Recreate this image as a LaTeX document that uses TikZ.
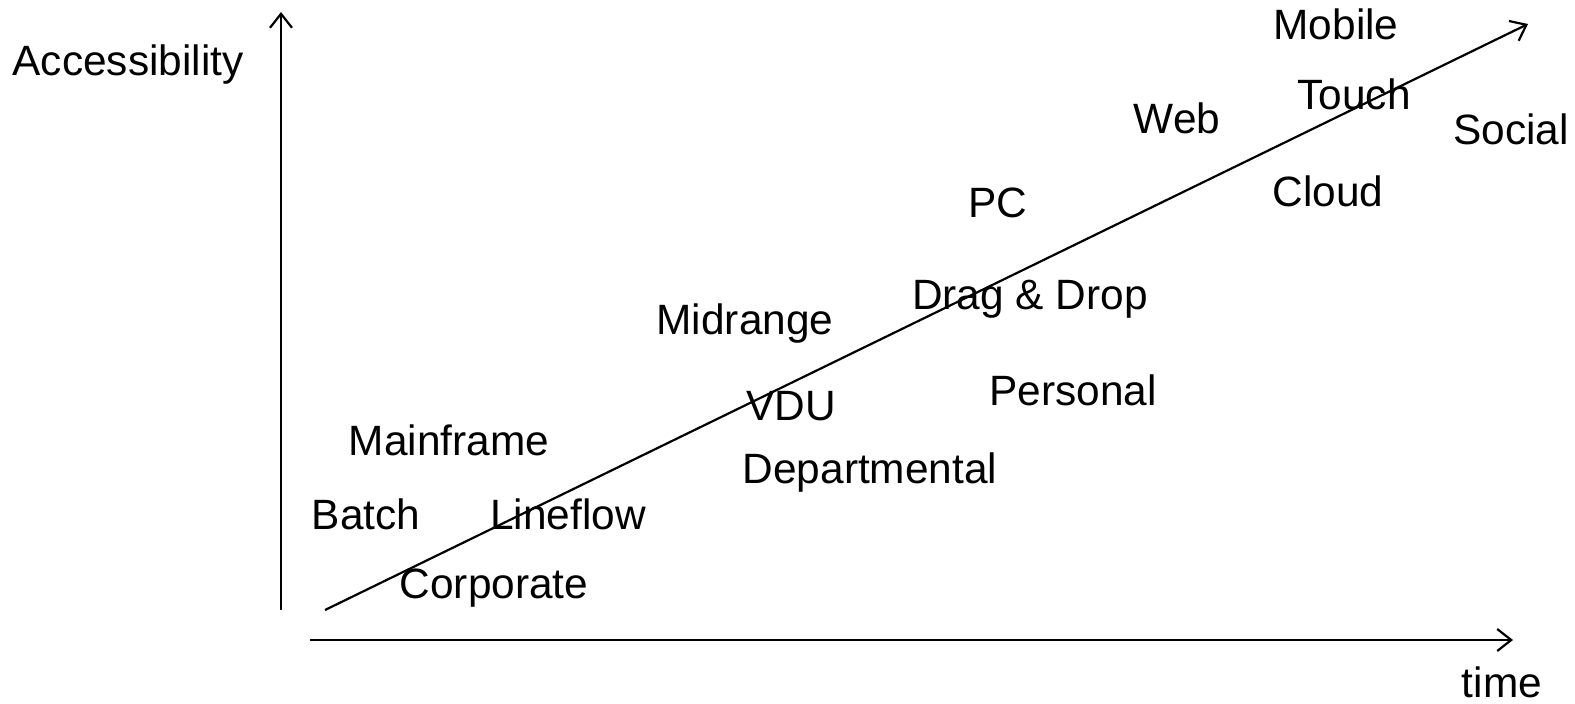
\documentclass[tikz,border=0pt]{standalone}
\usepackage{fontspec}
\setmainfont{Liberation Sans}
\usetikzlibrary{arrows.meta}

\begin{document}
\begin{tikzpicture}[x=0.5pt,y=-0.5pt,
        every node/.style={font=\fontsize{21.2}{25}\selectfont, inner sep=0pt, text height=15.2pt, text depth=0pt},
        axis/.style={line width=1.1pt, -{Straight Barb[length=7pt,width=11pt,line width=1.1pt]}}]
    \useasboundingbox (0,0) rectangle (1575,703);
    % axes and trend
    \coordinate (yfoot) at (281,610);
    \coordinate (ytip) at (281,12);
    \coordinate (xfoot) at (310,640);
    \coordinate (xtip) at (1513,640);
    \coordinate (tfoot) at (325,610);
    \coordinate (ttip) at (1528,24);
    \draw[axis] (yfoot) -- (ytip);
    \draw[axis] (xfoot) -- (xtip);
    \draw[axis] (tfoot) -- (ttip);
    \node (access) at (128,60) {Accessibility};
    \node (time) at (1502,682) {time};
    % labels
    \node (mobile) at (1336,24) {Mobile};
    \node (touch) at (1354,94) {Touch};
    \node (web) at (1177,118) {Web};
    \node (social) at (1511,129) {Social};
    \node (cloud) at (1328,191) {Cloud};
    \node (pc) at (998,202) {PC};
    \node (dragdrop) at (1030,294) {Drag \& Drop};
    \node (midrange) at (745,319) {Midrange};
    \node (vdu) at (791,405) {VDU};
    \node (personal) at (1073,390) {Personal};
    \node (mainframe) at (449,440) {Mainframe};
    \node (departmental) at (870,468) {Departmental};
    \node (batch) at (366,514) {Batch};
    \node (lineflow) at (568,514) {Lineflow};
    \node (corporate) at (494,583) {Corporate};
\end{tikzpicture}
\end{document}
